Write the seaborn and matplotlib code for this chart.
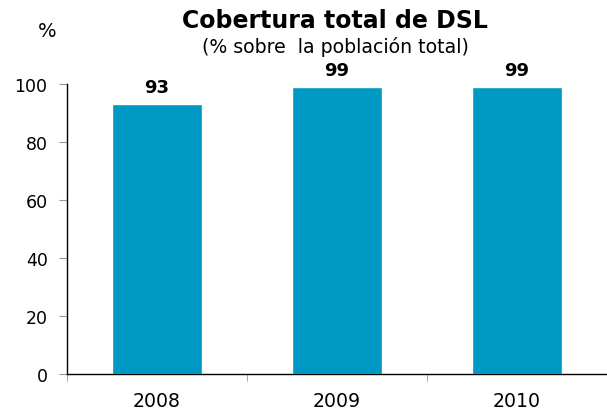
import matplotlib
matplotlib.use("Agg")
import matplotlib.pyplot as plt
import seaborn as sns
import pandas as pd

years = ["2008", "2009", "2010"]
coverage = [93, 99, 99]
yticks = [0, 20, 40, 60, 80, 100]

sns.set_style("white")
plt.rcParams["font.family"] = ["DejaVu Sans"]
plt.rcParams["text.color"] = "black"
plt.rcParams["xtick.color"] = "black"
plt.rcParams["ytick.color"] = "black"

df = pd.DataFrame({"year": years, "coverage": coverage})

fig = plt.figure(figsize=(6.07, 4.14), dpi=100)
ax = fig.add_axes([0.1104, 0.0942, 0.8896, 0.7005])
sns.barplot(data=df, x="year", y="coverage", color="#0099C4", saturation=1,
            width=0.5, ax=ax)

ax.set_xlim(-0.5, 2.5)
ax.set_ylim(0, 100)
ax.set_yticks(yticks)
ax.set_xlabel("")
ax.set_ylabel("")
for s in ["top", "right"]:
    ax.spines[s].set_visible(False)
for s in ["left", "bottom"]:
    ax.spines[s].set_color("black")
    ax.spines[s].set_linewidth(1.0)

ax.tick_params(axis="y", which="major", left=True, length=6, color="#999999",
               labelcolor="black", labelsize=12.5, pad=8)
ax.tick_params(axis="x", which="major", bottom=False, labelcolor="black",
               labelsize=13.6, pad=9)
ax.set_xticks([-0.5, 0.5, 1.5, 2.5], minor=True)
ax.tick_params(axis="x", which="minor", bottom=True, length=5, color="#999999")

for c in ax.containers:
    ax.bar_label(c, labels=[str(v) for v in coverage], padding=6,
                 fontsize=13, fontweight="bold", color="black")

fig.text(0.552, 0.949, "Cobertura total de DSL", ha="center", va="center",
         fontsize=17, fontweight="bold")
fig.text(0.553, 0.886, "(% sobre  la población total)", ha="center",
         va="center", fontsize=13.6)
fig.text(0.078, 0.925, "%", ha="center", va="center", fontsize=14)

plt.savefig("out.png", dpi=100)
